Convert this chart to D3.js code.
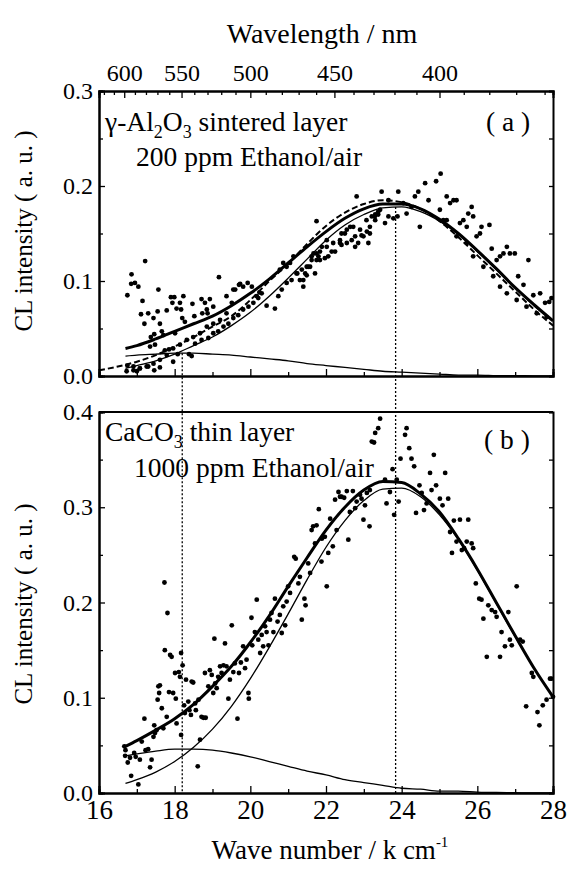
<!DOCTYPE html>
<html>
<head>
<meta charset="utf-8">
<script src="https://cdn.jsdelivr.net/npm/d3@7"></script>
<style>
  body { margin: 0; background: #fff; }
  .axis path { stroke: #000; stroke-width: 2; }
  .axis line { stroke: #000; stroke-width: 1.3; }
</style>
</head>
<body>
<div id="chart"></div>
<script>
// wave number grid of the fitted curves (k cm-1)
const fitK = [16.7, 17, 17.5, 18, 18.5, 19, 19.5, 20, 20.5, 21, 21.5, 22, 22.5, 23, 23.5, 24, 24.5, 25, 25.5, 26, 26.5, 27, 27.5, 28];

// panel (a) gamma-Al2O3 : fit curves
const aTotal = [0.029, 0.032, 0.039, 0.047, 0.055, 0.063, 0.074, 0.087, 0.102, 0.119, 0.136, 0.152, 0.166, 0.176, 0.181, 0.181, 0.176, 0.165, 0.150, 0.132, 0.113, 0.093, 0.075, 0.058];
const aMain = [0.008, 0.011, 0.016, 0.023, 0.032, 0.041, 0.053, 0.067, 0.084, 0.103, 0.123, 0.143, 0.159, 0.170, 0.177, 0.178, 0.173, 0.163, 0.149, 0.131, 0.112, 0.093, 0.074, 0.058];
const aMinor = [0.021, 0.022, 0.023, 0.024, 0.024, 0.023, 0.022, 0.020, 0.018, 0.016, 0.013, 0.011, 0.009, 0.007, 0.005, 0.004, 0.003, 0.002, 0.001, 0.001, 0.0005, 0.0003, 0.0002, 0.0001];
const dashK = [16, 16.5, 17, 17.5, 18, 18.5, 19, 19.5, 20, 20.5, 21, 21.5, 22, 22.5, 23, 23.5, 24, 24.5, 25, 25.5, 26, 26.5, 27, 27.5, 28];
const aDashed = [0.006, 0.010, 0.015, 0.022, 0.031, 0.041, 0.052, 0.063, 0.080, 0.100, 0.118, 0.139, 0.158, 0.172, 0.181, 0.185, 0.183, 0.176, 0.163, 0.146, 0.127, 0.108, 0.089, 0.070, 0.053];

// panel (b) CaCO3 : fit curves
const bTotal = [0.049, 0.055, 0.066, 0.078, 0.093, 0.112, 0.133, 0.158, 0.186, 0.217, 0.247, 0.276, 0.300, 0.318, 0.327, 0.326, 0.314, 0.295, 0.267, 0.235, 0.200, 0.165, 0.131, 0.101];
const bMain = [0.010, 0.014, 0.022, 0.033, 0.048, 0.067, 0.091, 0.120, 0.153, 0.188, 0.224, 0.258, 0.286, 0.307, 0.319, 0.320, 0.311, 0.292, 0.266, 0.234, 0.199, 0.164, 0.131, 0.101];
const bMinor = [0.039, 0.041, 0.044, 0.046, 0.046, 0.045, 0.042, 0.038, 0.033, 0.028, 0.023, 0.019, 0.014, 0.011, 0.008, 0.005, 0.004, 0.002, 0.002, 0.001, 0.0005, 0.0003, 0.0001, 0.0001];

// measured spectrum points [wave number, intensity]
const pointsA = [
  [16.75,0.085],[16.86,0.107],[16.85,0.097],[16.95,0.098],[17.04,0.094],[17.22,0.121],[17.15,0.079],[17.11,0.065],[17.2,0.055],[17.3,0.066],
  [17.37,0.041],[17.46,0.044],[17.44,0.061],[17.57,0.091],[17.55,0.068],[17.61,0.055],[17.66,0.047],[17.79,0.069],[17.9,0.083],[17.99,0.083],
  [17.94,0.077],[18.05,0.071],[18.01,0.045],[18.14,0.077],[18.17,0.07],[18.23,0.084],[18.2,0.061],[18.27,0.057],[18.47,0.076],[18.52,0.063],
  [18.71,0.081],[18.73,0.066],[18.8,0.077],[18.85,0.07],[18.87,0.066],[18.93,0.081],[19.02,0.073],[19.17,0.104],[19.37,0.084],[19.51,0.077],
  [19.6,0.091],[19.7,0.096],[19.81,0.094],[19.93,0.098],
  [16.75,0.011],[16.91,0.006],[17.0,0.005],[17.08,0.008],[17.3,0.01],[17.46,0.006],[17.61,0.009],[17.74,0.027],[17.85,0.028],[17.96,0.015],
  [18.08,0.023],[18.38,0.023],[18.45,0.021],[17.35,0.031],[17.48,0.033],[17.7,0.043],
  [19.55,0.091],[19.73,0.097],[20.04,0.094],[20.24,0.088],[20.43,0.074],[20.65,0.071],[20.17,0.084],[19.37,0.066],[19.2,0.059],[19.02,0.055],
  [18.85,0.052],[18.67,0.045],[18.49,0.041],[18.32,0.038],[18.14,0.033],[17.96,0.029],[17.79,0.022],[17.61,0.017],[17.44,0.013],[17.26,0.01],
  [17.08,0.008],[16.91,0.01],[16.73,0.005],
  [20.78,0.112],[20.87,0.119],[20.96,0.115],[21.05,0.119],[21.14,0.126],[21.24,0.108],[21.4,0.101],[21.53,0.115],[21.62,0.126],[21.75,0.122],
  [21.84,0.131],[22.02,0.136],[22.19,0.14],[22.37,0.143],[22.41,0.15],[22.55,0.154],[22.72,0.157],[22.85,0.14],[23.07,0.164],[23.16,0.15],
  [23.29,0.168],[23.43,0.175],[23.56,0.161],[23.65,0.185],[22.81,0.189],[21.75,0.163],
  [21.31,0.101],[21.45,0.108],[21.58,0.115],[21.67,0.129],[21.8,0.126],[21.89,0.136],[22.02,0.143],[22.15,0.131],[22.37,0.14],[22.5,0.15],
  [22.64,0.157],[22.77,0.136],[22.9,0.154],[22.94,0.148],[22.99,0.147],[23.12,0.14],[23.21,0.168],[23.3,0.17],[23.38,0.173],[23.47,0.194],
  [23.65,0.168],[23.78,0.166],[23.89,0.168],[23.91,0.194],[24.04,0.182],[24.13,0.171],[24.26,0.178],[24.35,0.189],[24.44,0.194],[24.48,0.157],
  [24.62,0.203],[24.71,0.185],[24.91,0.205],[25.03,0.213],[25.1,0.164],[25.19,0.189],[25.28,0.182],[25.37,0.185],[25.45,0.185],[25.54,0.161],
  [25.63,0.164],[25.72,0.157],[25.76,0.171],[25.85,0.178],[25.89,0.168],[25.98,0.147],[26.07,0.15],[26.11,0.157],[26.32,0.159],[26.38,0.134],
  [26.51,0.122],[26.6,0.126],[26.69,0.129],[26.78,0.136],[26.86,0.129],[26.99,0.129],[27.08,0.105],[27.22,0.096],[27.35,0.122],[27.48,0.085],
  [27.66,0.087],[27.79,0.077],[27.9,0.078],[27.96,0.082],
  [25.01,0.175],[25.19,0.164],[25.45,0.147],[25.72,0.14],[25.89,0.126],[26.16,0.115],[26.42,0.105],[26.6,0.094],[26.78,0.087],[27.04,0.08],
  [27.3,0.073],[27.57,0.066],[27.83,0.062],
  [21.4,0.094],[21.49,0.106],[21.71,0.108],[21.84,0.122],[21.97,0.124],[22.06,0.126],[22.24,0.131],[22.41,0.138],[22.55,0.14],[22.68,0.143],
  [22.77,0.147],[23.08,0.152],[23.16,0.157],[23.3,0.164],[23.38,0.17],
  [18.54,0.034],[18.71,0.038],[18.89,0.04],[19.02,0.045],[19.15,0.047],[19.29,0.052],[19.42,0.055],[19.55,0.061],[19.68,0.064],[19.81,0.07],
  [19.95,0.073],[20.08,0.077],[20.21,0.082],[20.3,0.087],[20.74,0.084],[20.83,0.091],[20.96,0.098],[21.09,0.101],[21.22,0.108],[21.36,0.112],
  [21.49,0.115],[21.62,0.122],[21.75,0.129]
];

const pointsB = [
  [16.67,0.049],[16.7,0.045],[16.69,0.039],[16.76,0.032],[16.82,0.037],[16.85,0.018],[16.93,0.042],[16.97,0.038],[17.04,0.009],[17.08,0.035],
  [17.13,0.054],[17.2,0.078],[17.23,0.045],[17.3,0.046],[17.35,0.027],[17.39,0.035],[17.44,0.059],[17.46,0.071],[17.48,0.063],[17.52,0.066],
  [17.55,0.098],[17.59,0.105],[17.57,0.112],[17.61,0.113],[17.66,0.089],[17.7,0.068],[17.73,0.221],[17.74,0.150],[17.81,0.189],[17.79,0.080],
  [17.85,0.106],[17.88,0.145],[17.92,0.143],[17.96,0.105],[18.01,0.126],[18.03,0.099],[18.05,0.073],[18.11,0.127],[18.14,0.122],[18.17,0.147],
  [18.17,0.061],[18.21,0.134],[18.25,0.092],[18.27,0.084],[18.3,0.119],[18.36,0.096],[18.39,0.087],[18.43,0.082],[18.45,0.117],[18.49,0.116],
  [18.54,0.094],[18.56,0.087],[18.61,0.028],[18.63,0.098],[18.67,0.056],[18.71,0.080],[18.76,0.079],[18.82,0.079],[18.8,0.126],[18.93,0.129],
  [18.98,0.124],[18.89,0.112],[19.02,0.105],[19.05,0.162],[19.07,0.115],[19.11,0.110],[19.15,0.122],[19.2,0.133],[19.24,0.126],[19.29,0.134],
  [19.33,0.157],[19.37,0.133],[19.42,0.099],[19.46,0.119],[19.51,0.176],[19.55,0.127],[19.59,0.136],[19.66,0.078],[19.7,0.126],[19.75,0.137],
  [19.81,0.154],[19.86,0.131],[19.9,0.140],[19.95,0.105],[19.96,0.099],[20.03,0.184],[20.05,0.155],[20.12,0.169],[20.17,0.203],[20.21,0.161],
  [20.26,0.147],[20.3,0.166],[20.34,0.154],[20.39,0.175],[20.43,0.169],[20.48,0.155],[20.52,0.182],[20.56,0.189],[20.61,0.169],[20.65,0.204],
  [20.72,0.180],[20.78,0.187],[20.83,0.168],[20.87,0.196],[20.92,0.176],[20.96,0.201],[21.0,0.217],[21.05,0.210],[21.16,0.248],[21.2,0.246],
  [21.27,0.220],[21.31,0.227],[21.36,0.182],[21.43,0.204],[21.46,0.197],[21.53,0.241],[21.58,0.231],[21.62,0.276],[21.66,0.280],[21.71,0.262],
  [21.75,0.281],[21.81,0.298],[21.88,0.243],
  [21.89,0.267],[21.97,0.269],[22.02,0.217],[22.06,0.252],[22.11,0.288],[22.18,0.259],[22.24,0.308],[22.28,0.276],[22.33,0.316],[22.37,0.311],
  [22.41,0.311],[22.48,0.310],[22.55,0.317],[22.59,0.266],[22.63,0.295],[22.71,0.317],[22.77,0.299],[22.81,0.306],[22.9,0.313],[22.94,0.309],
  [22.99,0.287],[23.03,0.302],[23.08,0.315],[23.15,0.280],[23.16,0.318],[23.21,0.369],[23.27,0.368],[23.3,0.378],[23.38,0.383],[23.43,0.393],
  [23.56,0.329],[23.6,0.304],[23.69,0.316],[23.76,0.340],[23.8,0.292],[23.87,0.329],[23.92,0.306],[23.97,0.351],[24.09,0.376],[24.13,0.383],
  [24.2,0.362],[24.26,0.351],[24.33,0.343],[24.38,0.294],[24.47,0.323],[24.53,0.315],[24.59,0.297],[24.66,0.304],[24.75,0.336],[24.79,0.318],
  [24.85,0.355],[24.91,0.323],[25.01,0.309],[25.08,0.302],[25.15,0.336],[25.23,0.309],[25.28,0.274],[25.33,0.252],[25.38,0.286],[25.45,0.264],
  [25.54,0.287],[25.59,0.255],[25.65,0.257],[25.72,0.264],[25.76,0.287],[25.85,0.262],[25.89,0.257],[25.96,0.220],[26.05,0.204],[26.11,0.203],
  [26.16,0.183],[26.25,0.143],[26.29,0.197],[26.38,0.192],[26.47,0.190],[26.51,0.185],[26.6,0.143],[26.64,0.169],[26.73,0.154],[26.82,0.190],
  [26.86,0.161],[26.91,0.155],[27.04,0.217],[27.13,0.161],[27.2,0.159],[27.29,0.091],[27.44,0.126],[27.48,0.122],[27.59,0.085],[27.64,0.071],
  [27.73,0.092],[27.83,0.098],[27.92,0.120],[27.96,0.120],[28.0,0.101]
];

// where the two band maxima are marked by dotted lines, and where they start in panel (a)
const guideK = [18.2, 23.84];
const guideTopA = [0.024, 0.182];

const wavelengthMajor = [600, 550, 500, 450, 400];
const wavelengthMinor = d3.range(620, 355, -10);

const FONT = "'Liberation Serif', 'DejaVu Serif', serif";

const width = 568, height = 870;
const left = 99, right = 553;

const svg = d3.select("#chart").append("svg")
  .attr("width", width)
  .attr("height", height)
  .attr("font-family", FONT)
  .style("font-family", FONT);

svg.append("rect").attr("width", width).attr("height", height).attr("fill", "#fff");

const x = d3.scaleLinear().domain([16, 28]).range([left, right]);
const xWl = d3.scalePow().exponent(-1).domain([10000 / 16, 10000 / 28]).range([left, right]);

const yA = d3.scaleLinear().domain([0, 0.3]).range([376, 91]);
const yB = d3.scaleLinear().domain([0, 0.4]).range([793, 412]);

function styleAxis(a, size) {
  a.attr("font-family", FONT);
  a.selectAll("text").attr("font-size", size).attr("fill", "#000").style("font-family", FONT);
}

function frameAxes(g, y, yMax, withTop, withXLabels) {
  const [y0, y1] = y.range();
  const majors = d3.range(0, yMax + 0.001, 0.1);
  const minors = d3.range(0.05, yMax, 0.1);

  // left axis
  g.append("g").attr("class", "axis").attr("transform", `translate(${left},0)`)
    .call(d3.axisLeft(y).tickValues(majors).tickSize(-6).tickPadding(6).tickFormat(d3.format(".1f")))
    .call(a => styleAxis(a, 24));
  g.append("g").attr("class", "axis").attr("transform", `translate(${left},0)`)
    .call(d3.axisLeft(y).tickValues(minors).tickSize(-4).tickFormat(""));

  // right axis
  g.append("g").attr("class", "axis").attr("transform", `translate(${right},0)`)
    .call(d3.axisRight(y).tickValues(majors.concat(minors)).tickSize(-4).tickFormat(""));

  // bottom axis
  g.append("g").attr("class", "axis").attr("transform", `translate(0,${y0})`)
    .call(d3.axisBottom(x).tickValues(d3.range(16, 29, 2)).tickSize(-7).tickPadding(7)
      .tickFormat(withXLabels ? d3.format("d") : ""))
    .call(a => styleAxis(a, 27));
  g.append("g").attr("class", "axis").attr("transform", `translate(0,${y0})`)
    .call(d3.axisBottom(x).tickValues(d3.range(17, 28, 2)).tickSize(-4).tickFormat(""));

  // top axis
  if (withTop) {
    g.append("g").attr("class", "axis").attr("transform", `translate(0,${y1})`)
      .call(d3.axisTop(xWl).tickValues(wavelengthMajor).tickSize(-7).tickPadding(10).tickFormat(d3.format("d")))
      .call(a => styleAxis(a, 24));
    g.append("g").attr("class", "axis").attr("transform", `translate(0,${y1})`)
      .call(d3.axisTop(xWl).tickValues(wavelengthMinor.filter(d => wavelengthMajor.indexOf(d) < 0)).tickSize(-4).tickFormat(""));
  } else {
    g.append("line").attr("x1", left).attr("x2", right).attr("y1", y1).attr("y2", y1)
      .attr("stroke", "#000").attr("stroke-width", 2);
  }
}

function drawCurve(g, ks, vs, y, sw, dash) {
  const line = d3.line()
    .x((d, i) => x(ks[i]))
    .y(d => y(d))
    .curve(d3.curveMonotoneX);
  g.append("path")
    .datum(vs)
    .attr("d", line)
    .attr("fill", "none")
    .attr("stroke", "#000")
    .attr("stroke-width", sw)
    .attr("stroke-dasharray", dash || null);
}

function drawPoints(g, pts, y) {
  g.selectAll("circle.pt")
    .data(pts)
    .enter()
    .append("circle")
    .attr("class", "pt")
    .attr("cx", d => x(d[0]))
    .attr("cy", d => y(d[1]))
    .attr("r", 2.4)
    .attr("fill", "#000");
}

const gA = svg.append("g");
const gB = svg.append("g");

// dotted guide lines running from panel (a) down through panel (b)
svg.selectAll("line.guide")
  .data(guideK)
  .enter()
  .append("line")
  .attr("class", "guide")
  .attr("x1", d => x(d)).attr("x2", d => x(d))
  .attr("y1", (d, i) => yA(guideTopA[i]))
  .attr("y2", yB(0))
  .attr("stroke", "#000")
  .attr("stroke-width", 1.3)
  .attr("stroke-dasharray", "2,2");

// panel (a)
drawPoints(gA, pointsA, yA);
drawCurve(gA, dashK, aDashed, yA, 2, "6,3");
drawCurve(gA, fitK, aMain, yA, 1.3);
drawCurve(gA, fitK, aMinor, yA, 1.3);
drawCurve(gA, fitK, aTotal, yA, 3);
frameAxes(gA, yA, 0.3, true, false);

// panel (b)
drawPoints(gB, pointsB, yB);
drawCurve(gB, fitK, bMain, yB, 1.3);
drawCurve(gB, fitK, bMinor, yB, 1.3);
drawCurve(gB, fitK, bTotal, yB, 3);
frameAxes(gB, yB, 0.4, false, true);

// titles
svg.append("text")
  .attr("x", 322).attr("y", 43)
  .attr("text-anchor", "middle")
  .attr("font-size", 28)
  .text("Wavelength / nm");

const xt = svg.append("text")
  .attr("x", 330).attr("y", 859)
  .attr("text-anchor", "middle")
  .attr("font-size", 27);
xt.append("tspan").text("Wave number / k cm");
xt.append("tspan").attr("dy", -12).attr("font-size", 15).text("-1");

[[yA, 231], [yB, 604]].forEach(([y, cy]) => {
  svg.append("text")
    .attr("transform", `translate(32,${cy}) rotate(-90)`)
    .attr("text-anchor", "middle")
    .attr("font-size", 25)
    .text("CL intensity ( a. u. )");
});

// annotations panel (a)
const la = svg.append("text").attr("x", 105).attr("y", 131).attr("font-size", 27.5);
la.append("tspan").text("\u03b3-Al");
la.append("tspan").attr("dy", 7).attr("font-size", 18).text("2");
la.append("tspan").attr("dy", -7).text("O");
la.append("tspan").attr("dy", 7).attr("font-size", 18).text("3");
la.append("tspan").attr("dy", -7).text(" sintered layer");

svg.append("text").attr("x", 136).attr("y", 166).attr("font-size", 27.5).text("200 ppm Ethanol/air");
svg.append("text").attr("x", 486).attr("y", 131).attr("font-size", 27.5).text("( a )");

// annotations panel (b)
const lb = svg.append("text").attr("x", 105).attr("y", 441).attr("font-size", 27.5);
lb.append("tspan").text("CaCO");
lb.append("tspan").attr("dy", 7).attr("font-size", 18).text("3");
lb.append("tspan").attr("dy", -7).text(" thin layer");

svg.append("text").attr("x", 134).attr("y", 477).attr("font-size", 27.5).text("1000 ppm Ethanol/air");
svg.append("text").attr("x", 484).attr("y", 449).attr("font-size", 27.5).text("( b )");
</script>
</body>
</html>
